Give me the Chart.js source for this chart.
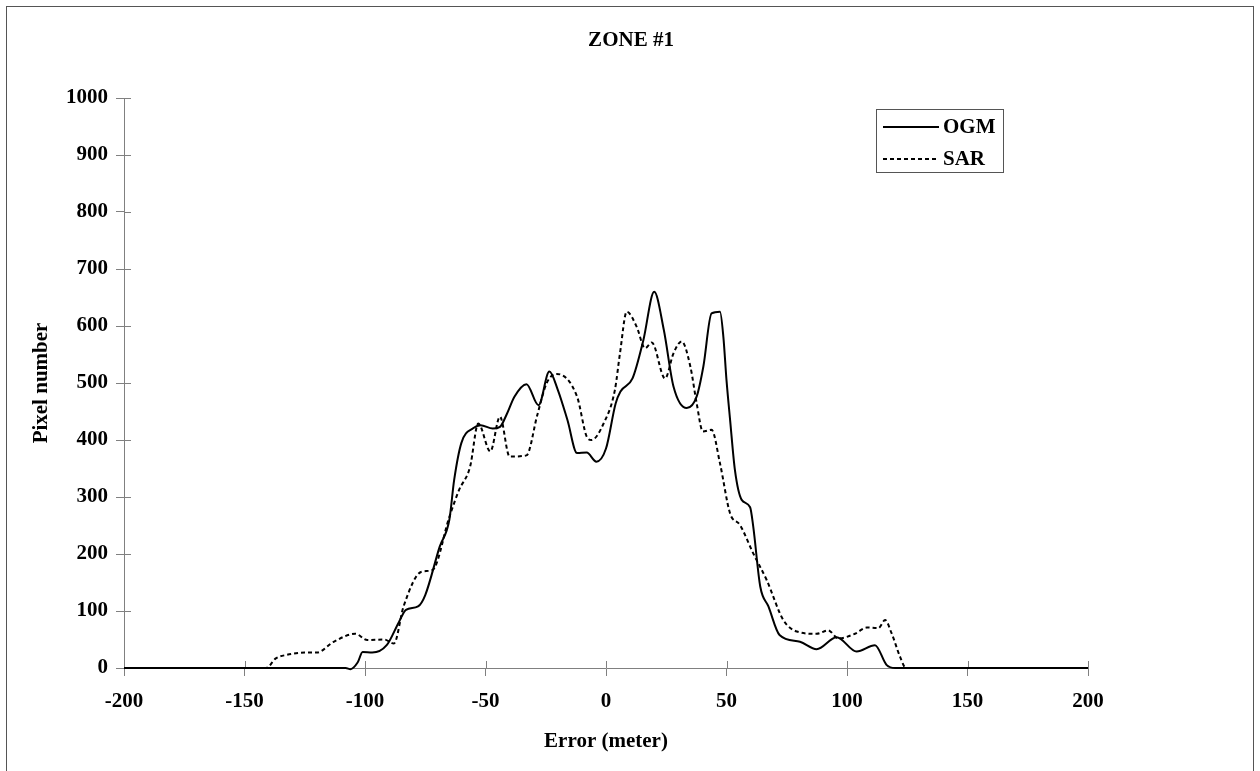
<!DOCTYPE html>
<html>
<head>
<meta charset="utf-8">
<title>ZONE #1</title>
<script src="https://cdn.jsdelivr.net/npm/chart.js@4.4.1/dist/chart.umd.min.js"></script>
<style>
  html, body { margin: 0; padding: 0; background: #fff; }
  #wrap { width: 1260px; height: 771px; }
</style>
</head>
<body>
<div id="wrap"><canvas id="zoneChart" width="1260" height="771"></canvas></div>
<script>
// values
const chartTitle = 'ZONE #1';
const seriesNames = ['OGM', 'SAR'];

const ogmError = [-200, -108, -106, -103, -101, -97, -91, -86, -83, -78, -75, -69, -65, -63, -60, -55, -52,
  -47, -44, -41, -38, -33, -28, -23.5, -20, -16, -12, -8, -4, 0, 4, 6, 11, 15.5, 20, 24, 28, 33.5, 37.6,
  40.4, 43.8, 47.3, 48.7, 50, 51.5, 53.5, 56.3, 59.8, 61.1, 64, 67.4, 72, 80.5, 87.4, 95.7, 104, 111.6,
  116.5, 120, 200];
const ogmPixels = [0, 0, -2, 10, 28, 27, 40, 80, 102, 108, 128, 213, 260, 330, 395, 421, 426,
  420, 423, 447, 476, 498, 461, 520, 488, 435, 377, 378, 362, 385, 464, 485, 508, 575, 660, 593, 494, 456, 476,
  529, 622, 625, 581, 505, 435, 347, 295, 282, 248, 143, 108, 58, 46, 33, 54, 29, 40,
  5, 0, 0];

const sarError = [-200, -141, -137, -132.5, -125, -120, -113, -104, -99, -92, -88, -84, -76.5, -72, -65, -61,
  -56.4, -53, -48, -44, -40, -33, -28.5, -24.6, -20.5, -12, -8, -6, -1, 3.7, 5.8, 8.6, 12.7, 16.2, 19, 24.5,
  28, 31.4, 35, 37.6, 40.2, 43.8, 47.3, 51.5, 55.6, 61.1, 66.7, 73.6, 79.2, 87.4, 92.2, 96.4, 103.3, 108.2,
  113, 115.8, 118.5, 122, 124.5, 200];
const sarPixels = [0, 0, 17, 23, 27, 27, 46, 60, 49, 50, 43, 108, 169, 172, 265, 312,
  353, 429, 380, 441, 371, 373, 444, 500, 516, 476, 406, 400, 429, 488, 552, 625, 599, 561, 571, 508,
  552, 573, 529, 465, 415, 418, 359, 271, 251, 201, 154, 84, 64, 60, 66, 52, 60, 71,
  70, 84, 61, 20, 0, 0];

const xLimits = [-200, 200];
const yLimits = [0, 1000];

const toPoints = (xs, ys) => xs.map((x, i) => ({ x: x, y: ys[i] }));

Chart.defaults.font.family = '"Liberation Serif", "Times New Roman", serif';
Chart.defaults.font.size = 21;
Chart.defaults.font.weight = 'bold';
Chart.defaults.color = '#000';

const axisGrey = '#808080';

// frame, title, crossing ticks and the boxed legend of the original figure
const figureExtras = {
  id: 'figureExtras',
  beforeDraw(chart) {
    const ctx = chart.ctx;
    ctx.save();
    ctx.fillStyle = '#fff';
    ctx.fillRect(0, 0, chart.width, chart.height);
    ctx.restore();
  },
  beforeDatasetsDraw(chart) {
    const ctx = chart.ctx;
    const area = chart.chartArea;
    const xs = chart.scales.x, ys = chart.scales.y;
    ctx.save();
    ctx.strokeStyle = axisGrey;
    ctx.lineWidth = 1;
    ctx.beginPath();
    xs.ticks.forEach(t => {
      const px = Math.round(xs.getPixelForValue(t.value)) + 0.5;
      ctx.moveTo(px, area.bottom);
      ctx.lineTo(px, area.bottom - 7);
    });
    ys.ticks.forEach(t => {
      const py = Math.round(ys.getPixelForValue(t.value)) + 0.5;
      ctx.moveTo(area.left, py);
      ctx.lineTo(area.left + 7, py);
    });
    ctx.stroke();
    ctx.restore();
  },
  afterDraw(chart) {
    const ctx = chart.ctx;
    ctx.save();
    ctx.strokeStyle = '#555';
    ctx.lineWidth = 1;
    ctx.strokeRect(6.5, 6.5, 1247, 820);

    ctx.fillStyle = '#000';
    ctx.font = 'bold 21px "Liberation Serif", serif';
    ctx.textAlign = 'center';
    ctx.textBaseline = 'middle';
    ctx.fillText(chartTitle, 631, 41);

    // legend box
    ctx.strokeStyle = '#555';
    ctx.strokeRect(876.5, 109.5, 127, 63);
    ctx.textAlign = 'left';
    chart.data.datasets.forEach((ds, i) => {
      const y = 127 + i * 32;
      ctx.strokeStyle = '#000';
      ctx.lineWidth = 2;
      ctx.setLineDash(ds.borderDash || []);
      ctx.beginPath();
      ctx.moveTo(883, y);
      ctx.lineTo(939, y);
      ctx.stroke();
      ctx.setLineDash([]);
      ctx.fillText(ds.label, 943, y + 1);
    });
    ctx.restore();
  }
};

const ctx = document.getElementById('zoneChart').getContext('2d');
const zoneChart = new Chart(ctx, {
  type: 'line',
  data: {
    datasets: [{
      label: seriesNames[0],
      data: toPoints(ogmError, ogmPixels),
      borderColor: '#000',
      borderWidth: 2,
      pointRadius: 0,
      cubicInterpolationMode: 'monotone',
      clip: 4
    }, {
      label: seriesNames[1],
      data: toPoints(sarError, sarPixels),
      borderColor: '#000',
      borderWidth: 2,
      borderDash: [4, 3],
      pointRadius: 0,
      cubicInterpolationMode: 'monotone',
      clip: 4
    }]
  },
  options: {
    responsive: false,
    animation: false,
    layout: {
      padding: { top: 98, right: 172, bottom: 0, left: 0 }
    },
    plugins: {
      legend: { display: false },
      title: { display: false },
      tooltip: { enabled: false }
    },
    scales: {
      x: {
        type: 'linear',
        min: xLimits[0],
        max: xLimits[1],
        ticks: { stepSize: 50, padding: 13, callback: v => String(v) },
        grid: { drawOnChartArea: false, color: axisGrey, tickLength: 8 },
        border: { color: axisGrey },
        title: { display: true, text: 'Error (meter)', padding: { top: 0, bottom: 17 } },
        afterFit(scale) { scale.height = 103; }
      },
      y: {
        min: yLimits[0],
        max: yLimits[1],
        ticks: { stepSize: 100, padding: 8, callback: v => String(v) },
        grid: { drawOnChartArea: false, color: axisGrey, tickLength: 8 },
        border: { color: axisGrey },
        title: { display: true, text: 'Pixel number', padding: { top: 29, bottom: 0 } },
        afterFit(scale) { scale.width = 124; }
      }
    }
  },
  plugins: [figureExtras]
});
</script>
</body>
</html>
